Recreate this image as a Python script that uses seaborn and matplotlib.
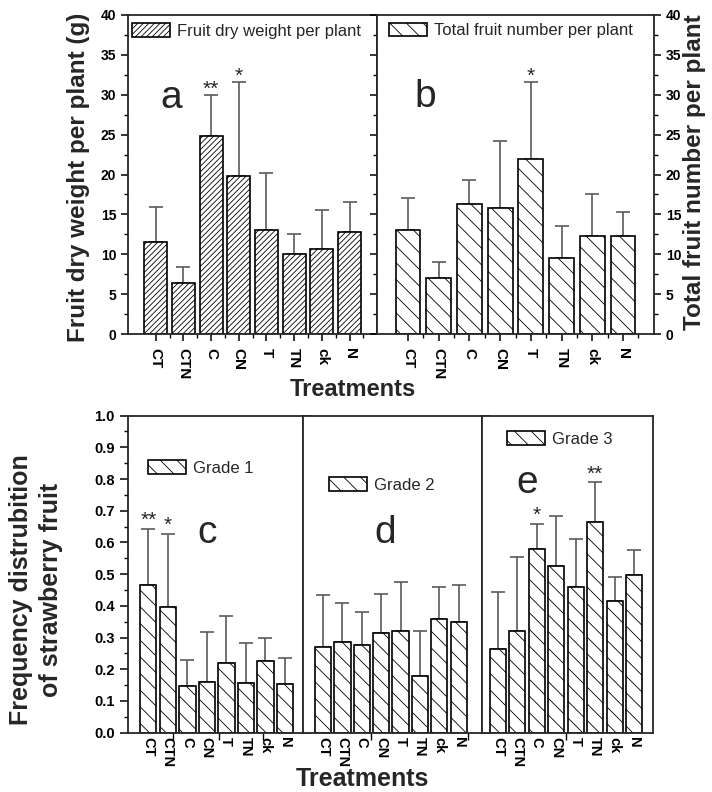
import numpy as np
import matplotlib
matplotlib.use('Agg')
import matplotlib.pyplot as plt
from matplotlib.ticker import MultipleLocator, FixedLocator
import seaborn as sns

treatments = ['CT', 'CTN', 'C', 'CN', 'T', 'TN', 'ck', 'N']

# panel a / b (means, top of the error bar, significance marks)
dry_weight = [11.5, 6.4, 24.8, 19.85, 13.1, 10.0, 10.7, 12.75]
dry_weight_upper = [15.9, 8.4, 30.0, 31.6, 20.2, 12.6, 15.5, 16.5]
dry_weight_sig = ['', '', '**', '*', '', '', '', '']

fruit_number = [13.0, 7.05, 16.25, 15.75, 22.0, 9.5, 12.25, 12.25]
fruit_number_upper = [17.0, 9.0, 19.3, 24.2, 31.6, 13.5, 17.6, 15.3]
fruit_number_sig = ['', '', '', '', '*', '', '', '']

# panels c / d / e: frequency distribution of fruit grades
grade1 = [0.466, 0.397, 0.147, 0.160, 0.220, 0.158, 0.225, 0.155]
grade1_upper = [0.643, 0.628, 0.228, 0.318, 0.369, 0.284, 0.300, 0.234]
grade1_sig = ['**', '*', '', '', '', '', '', '']

grade2 = [0.269, 0.285, 0.276, 0.313, 0.322, 0.180, 0.359, 0.350]
grade2_upper = [0.434, 0.410, 0.382, 0.437, 0.476, 0.321, 0.459, 0.465]
grade2_sig = ['', '', '', '', '', '', '', '']

grade3 = [0.265, 0.321, 0.580, 0.527, 0.460, 0.664, 0.416, 0.497]
grade3_upper = [0.443, 0.553, 0.659, 0.683, 0.611, 0.790, 0.491, 0.576]
grade3_sig = ['', '', '*', '', '', '**', '', '']

sns.set_style('ticks')
plt.rcParams['font.family'] = ['Liberation Sans', 'DejaVu Sans']
plt.rcParams['hatch.linewidth'] = 0.6
plt.rcParams['axes.linewidth'] = 1.3
plt.rcParams['xtick.major.width'] = 1.1
plt.rcParams['ytick.major.width'] = 1.1
plt.rcParams['xtick.minor.width'] = 1.0
plt.rcParams['ytick.minor.width'] = 1.0
plt.rcParams['xtick.color'] = 'black'
plt.rcParams['ytick.color'] = 'black'

W, H = 712, 792
fig = plt.figure(figsize=(W / 100, H / 100), dpi=100)


def box(x0, x1, ytop, ybot):
    return [x0 / W, 1 - ybot / H, (x1 - x0) / W, (ybot - ytop) / H]


def draw_panel(ax, values, upper, sig, hatch, width, xlim, star_pad=1):
    sns.barplot(x=treatments, y=values, ax=ax, color='white', edgecolor='black',
                linewidth=1.2, width=width, hatch=hatch, errorbar=None, saturation=1)
    pos = np.arange(len(treatments))
    vals = np.array(values)
    ax.errorbar(pos, vals, yerr=[np.zeros(len(vals)), np.array(upper) - vals],
                fmt='none', ecolor='#5a5a5a', elinewidth=1.2, capsize=5,
                capthick=1.2, zorder=0.5)
    for i, s in enumerate(sig):
        if s:
            ax.annotate(s, (pos[i], upper[i]), xytext=(0, star_pad),
                        textcoords='offset points', ha='center', va='baseline',
                        fontsize=15)
    ax.set_xlim(*xlim)
    ax.set_xlabel('')
    ax.set_ylabel('')
    for sp in ax.spines.values():
        sp.set_visible(True)
        sp.set_linewidth(1.3)
    return pos


def legend(ax, label, x, y, fs=12):
    ax.legend(handles=[ax.patches[0]], labels=[label], loc='center left',
              bbox_to_anchor=(x / W, 1 - y / H), bbox_transform=fig.transFigure,
              frameon=False, borderpad=0, borderaxespad=0, fontsize=fs,
              handlelength=2.3, handleheight=0.85, handletextpad=0.4)


# ---------------- top row ----------------
ax_a = fig.add_axes(box(128, 377, 15, 334))
ax_b = fig.add_axes(box(377, 654, 15, 334))

pos = draw_panel(ax_a, dry_weight, dry_weight_upper, dry_weight_sig, '//////', 0.83, (-1.0, 7.99), 0)
draw_panel(ax_b, fruit_number, fruit_number_upper, fruit_number_sig, '\\\\', 0.81, (-1.01, 8.01), 0)

top_ticks = [0, 5, 10, 15, 20, 25, 30, 35, 40]
for ax in (ax_a, ax_b):
    ax.set_ylim(0, 40)
    ax.set_yticks(top_ticks)
    ax.yaxis.set_minor_locator(MultipleLocator(2.5))
    ax.set_xticks(pos)
    ax.set_xticklabels(treatments, rotation=-90, ha='center', va='top',
                       fontsize=11, fontweight='bold')
    ax.xaxis.set_minor_locator(FixedLocator(pos + 0.5))
    ax.tick_params(axis='x', which='major', length=5, pad=5)
    ax.tick_params(axis='x', which='minor', length=3)
    ax.tick_params(axis='y', which='major', length=5, direction='out')
    ax.tick_params(axis='y', which='minor', length=3, direction='out')

ax_a.set_yticklabels([str(t) for t in top_ticks], fontsize=10, fontweight='bold')
ax_a.tick_params(axis='y', which='both', left=True, right=False)
ax_b.tick_params(axis='y', which='both', left=True, right=True,
                 labelleft=False, labelright=True)
ax_b.set_yticklabels([str(t) for t in top_ticks], fontsize=10, fontweight='bold')

legend(ax_a, 'Fruit dry weight per plant', 132, 31)
legend(ax_b, 'Total fruit number per plant', 389, 30.5)

ax_a.text(0.173, 0.74, 'a', transform=ax_a.transAxes, fontsize=28,
          ha='center', va='center')
ax_b.text(0.173, 0.743, 'b', transform=ax_b.transAxes, fontsize=28,
          ha='center', va='center')

fig.text(79 / W, 1 - 177.5 / H, 'Fruit dry weight per plant (g)', rotation=90,
         ha='center', va='center', fontsize=17.5, fontweight='bold')
fig.text(695 / W, 1 - 172.5 / H, 'Total fruit number per plant', rotation=90,
         ha='center', va='center', fontsize=17.5, fontweight='bold')
fig.text(353 / W, 1 - 396 / H, 'Treatments', ha='center', va='baseline',
         fontsize=17, fontweight='bold')

# ---------------- bottom row ----------------
ax_c = fig.add_axes(box(128, 303, 415.6, 732.7))
ax_d = fig.add_axes(box(303, 482, 415.6, 732.7))
ax_e = fig.add_axes(box(482, 653.3, 415.6, 732.7))

draw_panel(ax_c, grade1, grade1_upper, grade1_sig, '\\\\', 0.84, (-1.04, 7.93), 2)
draw_panel(ax_d, grade2, grade2_upper, grade2_sig, '\\\\', 0.84, (-1.03, 8.2), 2)
draw_panel(ax_e, grade3, grade3_upper, grade3_sig, '\\\\', 0.82, (-0.82, 7.99), 2)

bottom_ticks = [0.0, 0.1, 0.2, 0.3, 0.4, 0.5, 0.6, 0.7, 0.8, 0.9, 1.0]
minor_x = {ax_c: [1.25, 3.6, 5.9], ax_d: [0, 2.5, 5, 7.5], ax_e: [1, 3.5, 6]}
for ax in (ax_c, ax_d, ax_e):
    ax.set_ylim(0, 1.0)
    ax.set_yticks(bottom_ticks)
    ax.yaxis.set_minor_locator(MultipleLocator(0.05))
    ax.set_xticks(pos)
    ax.set_xticklabels(treatments, rotation=-90, ha='center', va='top',
                       fontsize=10.5, fontweight='bold')
    ax.xaxis.set_minor_locator(FixedLocator(minor_x[ax]))
    ax.tick_params(axis='x', which='major', length=0, pad=3)
    ax.tick_params(axis='x', which='minor', length=5)
    ax.tick_params(axis='y', which='major', length=6, direction='out')
    ax.tick_params(axis='y', which='minor', length=3, direction='out')
    ax.tick_params(axis='y', which='both', left=False, right=True,
                   labelleft=False, labelright=False)

ax_c.tick_params(axis='y', which='both', left=True, labelleft=True)
ax_c.set_yticklabels(['%.1f' % t for t in bottom_ticks], fontsize=10.5,
                     fontweight='bold')
ax_e.tick_params(axis='y', which='both', right=False)

legend(ax_c, 'Grade 1', 148, 468)
legend(ax_d, 'Grade 2', 329, 485)
legend(ax_e, 'Grade 3', 507, 439)

ax_c.text(0.45, 0.63, 'c', transform=ax_c.transAxes, fontsize=28,
          ha='center', va='center')
ax_d.text(0.458, 0.63, 'd', transform=ax_d.transAxes, fontsize=28,
          ha='center', va='center')
ax_e.text(0.263, 0.788, 'e', transform=ax_e.transAxes, fontsize=28,
          ha='center', va='center')

fig.text(36 / W, 1 - 590 / H, 'Frequency distrubition\nof strawberry fruit',
         rotation=90, ha='center', va='center', fontsize=18,
         fontweight='bold', linespacing=1.3)
fig.text(362 / W, 1 - 786.5 / H, 'Treatments', ha='center', va='baseline',
         fontsize=18, fontweight='bold')

fig.savefig('out.png', dpi=100)
